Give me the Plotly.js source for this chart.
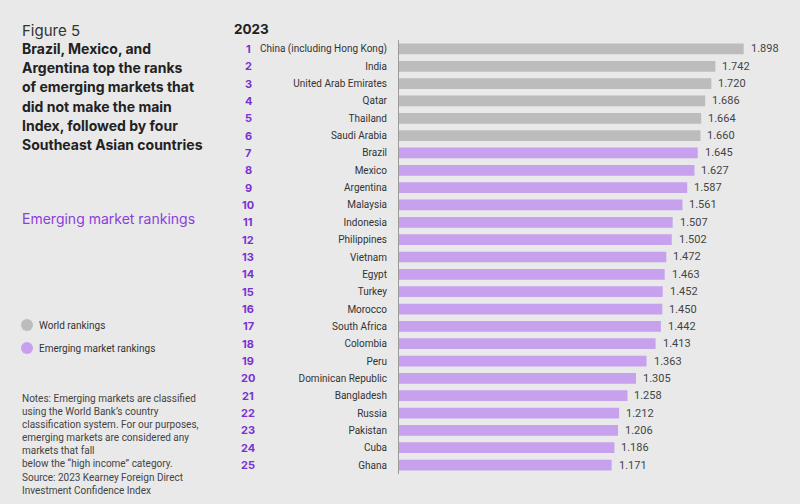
<!DOCTYPE html>
<html>
<head>
<meta charset="utf-8">
<script src="https://cdn.plot.ly/plotly-3.0.1.min.js"></script>
<style>
  html, body { margin: 0; padding: 0; background: #e9e9e9; }
  #chart { width: 800px; height: 504px; }
</style>
</head>
<body>
<div id="chart"></div>
<script>
// ---- Data ----
const ranks = [1,2,3,4,5,6,7,8,9,10,11,12,13,14,15,16,17,18,19,20,21,22,23,24,25];
const countries = [
  "China (including Hong Kong)", "India", "United Arab Emirates", "Qatar", "Thailand",
  "Saudi Arabia", "Brazil", "Mexico", "Argentina", "Malaysia", "Indonesia", "Philippines",
  "Vietnam", "Egypt", "Turkey", "Morocco", "South Africa", "Colombia", "Peru",
  "Dominican Republic", "Bangladesh", "Russia", "Pakistan", "Cuba", "Ghana"
];
const scores = [1.898, 1.742, 1.720, 1.686, 1.664, 1.660, 1.645, 1.627, 1.587, 1.561,
  1.507, 1.502, 1.472, 1.463, 1.452, 1.450, 1.442, 1.413, 1.363, 1.305, 1.258, 1.212,
  1.206, 1.186, 1.171];
// group: "world" = World rankings (gray), "em" = Emerging market rankings (purple)
const groups = ["world","world","world","world","world","world",
  "em","em","em","em","em","em","em","em","em","em","em","em","em","em","em","em","em","em","em"];
const legendLabels = ["World rankings", "Emerging market rankings"];
const titleLines = ["Brazil, Mexico, and", "Argentina top the ranks", "of emerging markets that",
  "did not make the main", "Index, followed by four", "Southeast Asian countries"];

// ---- Styles ----
const GRAY = "#bcbcbc";
const PURPLE = "#c7a1ee";
const RANK_PURPLE = "#7b30d3";
const FONT = "Inter, 'Open Sans', sans-serif";
const SMALL = "Roboto, 'Liberation Sans', sans-serif";

const W = 800, H = 504;
const px = v => v / W;
const py = v => 1 - v / H;

const barColors = groups.map(g => g === "world" ? GRAY : PURPLE);

const traces = [{
  type: "bar",
  orientation: "h",
  x: scores,
  y: countries,
  marker: { color: barColors, line: { width: 0 } },
  width: 0.62,
  hoverinfo: "x+y",
  showlegend: false
}];

const annotations = [];
countries.forEach((c, i) => {
  annotations.push({
    xref: "paper", yref: "y", x: px(248), y: c, xanchor: "center", yanchor: "middle",
    text: "<b>" + ranks[i] + "</b>", showarrow: false,
    font: { family: FONT, size: 11, color: RANK_PURPLE }
  });
  annotations.push({
    xref: "x", yref: "y", x: scores[i], y: c, xanchor: "left", yanchor: "middle",
    xshift: 5, text: scores[i].toFixed(3), showarrow: false,
    font: { family: SMALL, size: 11, color: "#444" }
  });
});

annotations.push({
  xref: "paper", yref: "paper", x: px(20), y: py(30), xanchor: "left", yanchor: "middle",
  text: "Figure 5", showarrow: false, font: { family: FONT, size: 15, color: "#333" }
});
titleLines.forEach((t, i) => {
  annotations.push({
    xref: "paper", yref: "paper", x: px(20), y: py(48.5 + i * 19.2), xanchor: "left", yanchor: "middle",
    text: "<b>" + t + "</b>", showarrow: false,
    font: { family: FONT, size: 14, color: "#222" }
  });
});
annotations.push({
  xref: "paper", yref: "paper", x: px(20), y: py(218), xanchor: "left", yanchor: "middle",
  text: "Emerging market rankings", showarrow: false,
  font: { family: FONT, size: 14, color: "#8a3fd9" }
});
annotations.push({
  xref: "paper", yref: "paper", x: px(232), y: py(29), xanchor: "left", yanchor: "middle",
  text: "<b>2023</b>", showarrow: false, font: { family: FONT, size: 13.5, color: "#222" }
});
const legendY = [325, 348];
const legendCols = [GRAY, PURPLE];
const shapes = [];
legendLabels.forEach((lab, i) => {
  shapes.push({
    type: "circle", xref: "paper", yref: "paper",
    xsizemode: "pixel", ysizemode: "pixel",
    xanchor: px(27), yanchor: py(legendY[i]),
    x0: -6, x1: 6, y0: -6, y1: 6,
    fillcolor: legendCols[i], line: { width: 0 }
  });
  annotations.push({
    xref: "paper", yref: "paper", x: px(37), y: py(legendY[i]), xanchor: "left", yanchor: "middle",
    text: lab, showarrow: false, font: { family: SMALL, size: 10, color: "#333" }
  });
});
annotations.push({
  xref: "paper", yref: "paper", x: px(20), y: py(391), xanchor: "left", yanchor: "top",
  align: "left", showarrow: false,
  text: "Notes: Emerging markets are classified<br>using the World Bank\u2019s country<br>classification system. For our purposes,<br>emerging markets are considered any<br>markets that fall<br>below the \u201chigh income\u201d category.",
  font: { family: SMALL, size: 10, color: "#444" }
});
annotations.push({
  xref: "paper", yref: "paper", x: px(20), y: py(470), xanchor: "left", yanchor: "top",
  align: "left", showarrow: false,
  text: "Source: 2023 Kearney Foreign Direct<br>Investment Confidence Index",
  font: { family: SMALL, size: 10, color: "#444" }
});

const xLeft = 399, xRight = 780;
const pxPerUnit = 181.6;
const layout = {
  width: W, height: H,
  paper_bgcolor: "#e9e9e9", plot_bgcolor: "#e9e9e9",
  margin: { l: 0, r: 0, t: 0, b: 0, pad: 0 },
  showlegend: false,
  xaxis: {
    domain: [px(xLeft), px(xRight)],
    range: [0, (xRight - xLeft) / pxPerUnit],
    showgrid: false, zeroline: false, showticklabels: false, showline: false, ticks: ""
  },
  yaxis: {
    domain: [py(473.7), py(40.3)],
    type: "category",
    categoryorder: "array", categoryarray: countries,
    range: [countries.length - 0.5, -0.5],
    showgrid: false, zeroline: false,
    showline: true, linecolor: "#9a9a9a", linewidth: 1,
    ticks: "outside", ticklen: 9, tickcolor: "rgba(0,0,0,0)",
    tickfont: { family: SMALL, size: 10, color: "#333" }
  },
  annotations: annotations,
  shapes: shapes
};

Plotly.newPlot("chart", traces, layout, { displayModeBar: false, staticPlot: true });
</script>
</body>
</html>
